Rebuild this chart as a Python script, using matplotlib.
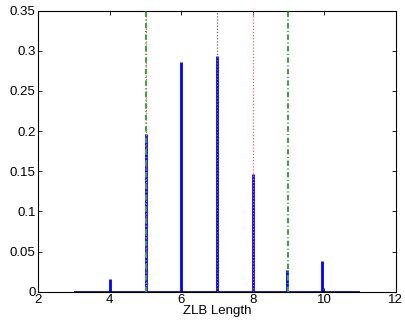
import os

os.environ.setdefault("MPLBACKEND", "Agg")
import matplotlib.pyplot as plt

# ZLB length distribution
lengths = [4, 5, 6, 7, 8, 8.95, 9.93]
shares = [0.0154, 0.196, 0.286, 0.294, 0.146, 0.027, 0.0386]
baseline_span = [3, 11]

red_marks = [5, 8]
black_marks = [7]
green_marks = [5, 9]

xticks = [2, 4, 6, 8, 10, 12]
yticks = [0, 0.05, 0.1, 0.15, 0.2, 0.25, 0.3, 0.35]
ytick_labels = ["0", "0.05", "0.1", "0.15", "0.2", "0.25", "0.3", "0.35"]

plt.rcParams["font.family"] = ["Liberation Sans", "DejaVu Sans"]

fig = plt.figure(figsize=(4.06, 3.24), dpi=100)
ax = fig.add_axes([38.3 / 406, 1 - 291.7 / 324, (395.7 - 38.3) / 406, (291.7 - 10.7) / 324])

ax.vlines(lengths, 0, shares, color="#0000ff", linewidth=2.0, zorder=2)
ax.hlines(0, baseline_span[0], baseline_span[1], color="#000080", linewidth=1.2, zorder=2)

# marker lines sit on top of the bars, like in the original
for x in red_marks:
    ax.axvline(x, color="#ff6060", linestyle=(0, (1, 1.5)), linewidth=0.9, zorder=3)
for x in black_marks:
    ax.axvline(x, color="#666666", linestyle=(0, (1, 1.5)), linewidth=0.9, zorder=3)
for x in green_marks:
    ax.axvline(x, color="#45a045", linestyle=(0, (2.6, 1.2, 0.5, 1.2)), linewidth=1.5, zorder=4)

ax.set_xlim(2, 12)
ax.set_ylim(0, 0.35)
ax.set_xticks(xticks)
ax.set_yticks(yticks, ytick_labels)
ax.tick_params(direction="in", length=3, width=0.6, labelsize=9.5, top=True, right=True, pad=2)
for spine in ax.spines.values():
    spine.set_linewidth(0.8)
ax.set_xlabel("ZLB Length", fontsize=9.5, labelpad=-1)

fig.savefig("out.png", dpi=100)
plt.close(fig)
